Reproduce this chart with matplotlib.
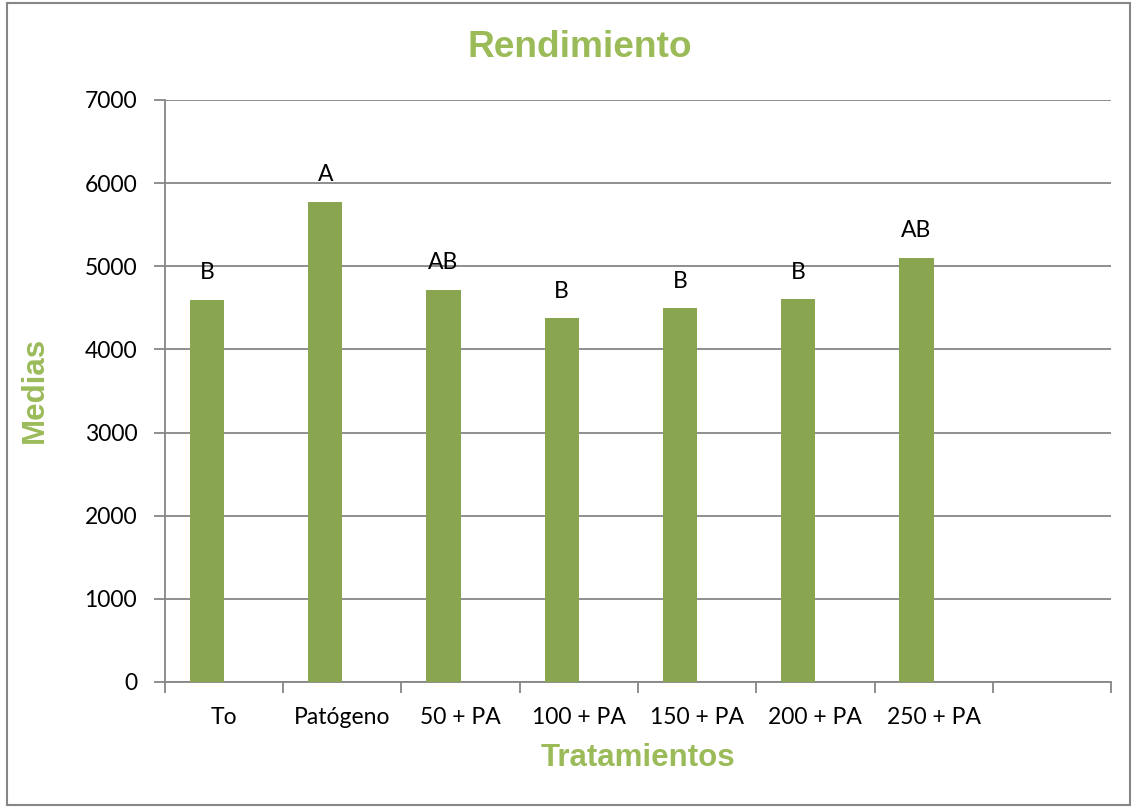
import matplotlib
matplotlib.use('Agg')
import matplotlib.pyplot as plt
from matplotlib.patches import Rectangle

# Data
tratamientos = ['To', 'Patógeno', '50 + PA', '100 + PA', '150 + PA', '200 + PA', '250 + PA', '']
medias = [4595, 5777, 4715, 4374, 4498, 4603, 5103]
letras = ['B', 'A', 'AB', 'B', 'B', 'B', 'AB']

green_bar = '#8AA54F'
green_txt = '#9BBB59'
gray = '#868686'

fig = plt.figure(figsize=(11.33, 8.07), dpi=100)
ax = fig.add_axes([0.1456, 0.1549, 0.835, 0.7212])

pos = list(range(len(tratamientos)))
# Excel places the bars a little left of the slot centre
bar_x = [p - 0.145 for p in pos[:len(medias)]]
ax.bar(bar_x, medias, width=0.29, color=green_bar, zorder=3)

for x, v, l in zip(bar_x, medias, letras):
    ax.annotate(l, (x, v), xytext=(0, 27), textcoords='offset pixels',
                ha='center', va='center', fontsize=16.5, family='Lato', color='black')

ax.set_xlim(-0.5, len(tratamientos) - 0.5)
ax.set_ylim(0, 7000)
ax.set_yticks(range(0, 7001, 1000))
ax.yaxis.grid(True, color=gray, linewidth=1.3, zorder=0)
ax.set_axisbelow(True)

# category labels (no tick marks), separators as minor ticks
ax.set_xticks(pos)
ax.set_xticklabels(tratamientos, fontsize=16.5, family='Lato')
ax.set_xticks([p - 0.5 for p in pos] + [pos[-1] + 0.5], minor=True)
ax.tick_params(axis='x', which='major', length=0, pad=18)
ax.tick_params(axis='x', which='minor', length=8, width=1.3, color=gray)
ax.tick_params(axis='y', length=8, width=1.3, color=gray, labelsize=16.5, pad=12)
for lab in ax.get_yticklabels():
    lab.set_family('Lato')

for s in ['top', 'right']:
    ax.spines[s].set_visible(False)
for s in ['left', 'bottom']:
    ax.spines[s].set_color(gray)
    ax.spines[s].set_linewidth(1.3)

fig.text(0.512, 0.941, 'Rendimiento', ha='center', va='center', fontsize=26.7,
         fontweight='bold', family='Liberation Sans', color=green_txt)
fig.text(0.563, 0.061, 'Tratamientos', ha='center', va='center', fontsize=22.5,
         fontweight='bold', family='Liberation Sans', color=green_txt)
fig.text(0.031, 0.517, 'Medias', ha='center', va='center', rotation=90, fontsize=22.5,
         fontweight='bold', family='Liberation Sans', color=green_txt)

fig.patches.append(Rectangle((7 / 1133, 2 / 807), 1123 / 1133, 802 / 807,
                             transform=fig.transFigure, fill=False,
                             edgecolor=gray, linewidth=1.5))

fig.savefig('out.png', dpi=100)
